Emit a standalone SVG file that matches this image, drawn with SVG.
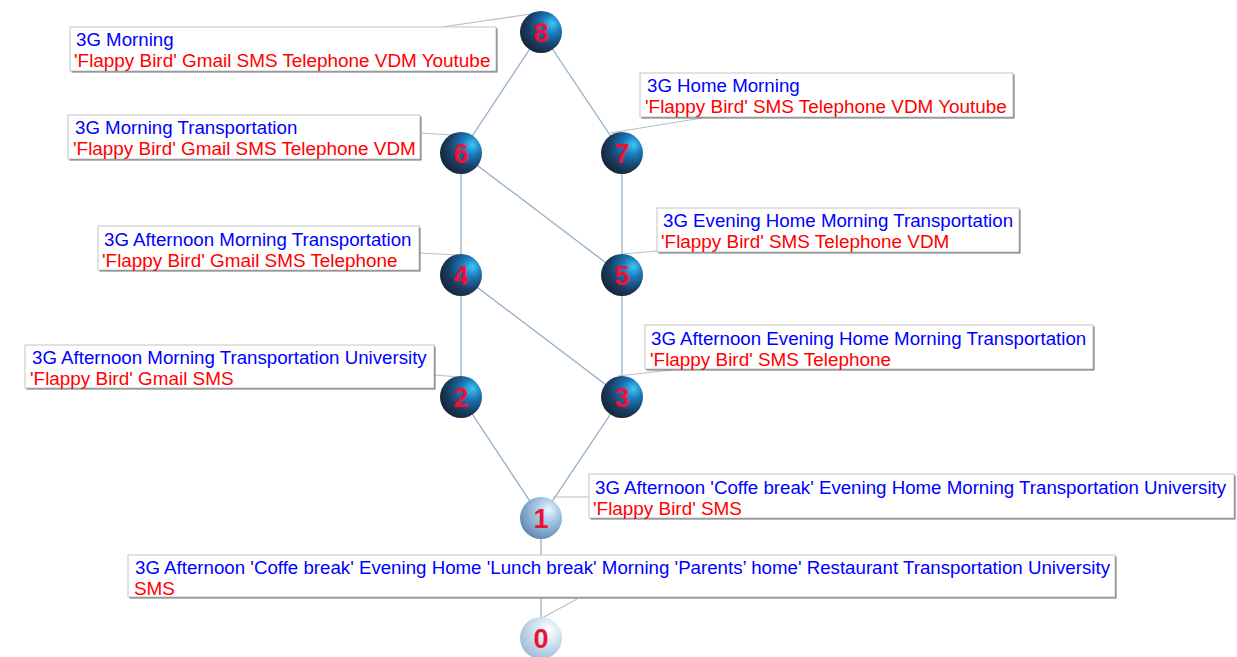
<svg xmlns="http://www.w3.org/2000/svg" width="1237" height="657" viewBox="0 0 1237 657">
<style>
.edge{stroke:#8ea9c6;stroke-width:1.2;fill:none}
.lead{stroke:#b9bec4;stroke-width:1.2;fill:none}
.box{fill:#fff;stroke:#c4c4c4;stroke-width:1}
.shd{fill:#6e6e6e}
.t1{font-family:"Liberation Sans",Arial,sans-serif;font-size:18.7px;fill:#0000ff}
.t2{font-family:"Liberation Sans",Arial,sans-serif;font-size:18.9px;fill:#ff0000}
.num{font-family:"Liberation Sans",Arial,sans-serif;font-size:27px;font-weight:bold;fill:#ee1133;text-anchor:middle}
.dark{fill:url(#gDark)}
</style>
<defs>
<radialGradient id="gDark" cx="0.68" cy="0.35" r="0.8" fx="0.78" fy="0.3">
<stop offset="0" stop-color="#3cc8f4"/>
<stop offset="0.3" stop-color="#1a78b8"/>
<stop offset="0.65" stop-color="#1a3c62"/>
<stop offset="1" stop-color="#161e2a"/>
</radialGradient>
<radialGradient id="gMid" cx="0.62" cy="0.35" r="0.8" fx="0.68" fy="0.3">
<stop offset="0" stop-color="#eef6ff"/>
<stop offset="0.35" stop-color="#a8c8e6"/>
<stop offset="0.75" stop-color="#7298c0"/>
<stop offset="1" stop-color="#4e6f92"/>
</radialGradient>
<radialGradient id="gLight" cx="0.62" cy="0.35" r="0.8" fx="0.68" fy="0.3">
<stop offset="0" stop-color="#ffffff"/>
<stop offset="0.4" stop-color="#d2e4f2"/>
<stop offset="0.8" stop-color="#a6c2da"/>
<stop offset="1" stop-color="#8aa8c2"/>
</radialGradient>
</defs>
<rect width="1237" height="657" fill="#ffffff"/>
<g id="connectors">
<line class="edge" x1="541" y1="32" x2="461" y2="153"/>
<line class="edge" x1="541" y1="32" x2="622" y2="153"/>
<line class="edge" x1="461" y1="153" x2="461" y2="275"/>
<line class="edge" x1="461" y1="153" x2="622" y2="275"/>
<line class="edge" x1="622" y1="153" x2="622" y2="275"/>
<line class="edge" x1="461" y1="275" x2="461" y2="397"/>
<line class="edge" x1="461" y1="275" x2="622" y2="397"/>
<line class="edge" x1="622" y1="275" x2="622" y2="397"/>
<line class="edge" x1="461" y1="397" x2="541" y2="518"/>
<line class="edge" x1="622" y1="397" x2="541" y2="518"/>
<line class="edge" x1="541" y1="518" x2="541" y2="637"/>
<line class="lead" x1="442" y1="27" x2="538" y2="13"/>
<line class="lead" x1="420" y1="133" x2="453" y2="135"/>
<line class="lead" x1="702" y1="118" x2="610" y2="133"/>
<line class="lead" x1="657" y1="251" x2="623" y2="254"/>
<line class="lead" x1="419" y1="253" x2="458" y2="255"/>
<line class="lead" x1="434" y1="375" x2="460" y2="377"/>
<line class="lead" x1="680" y1="369" x2="618" y2="376"/>
<line class="lead" x1="589" y1="497" x2="553" y2="497"/>
<line class="lead" x1="577" y1="599" x2="542" y2="618"/>
</g>
<g id="label8">
<rect class="shd" x="71.5" y="28.5" width="426" height="44"/>
<rect class="box" x="70" y="27" width="426" height="44"/>
<text class="t1" x="76" y="46">3G Morning</text>
<text class="t2" x="74" y="67">'Flappy Bird' Gmail SMS Telephone VDM Youtube</text>
</g>
<g id="label6">
<rect class="shd" x="69.5" y="116.5" width="352" height="44"/>
<rect class="box" x="68" y="115" width="352" height="44"/>
<text class="t1" x="75" y="134">3G Morning Transportation</text>
<text class="t2" x="73" y="155">'Flappy Bird' Gmail SMS Telephone VDM</text>
</g>
<g id="label7">
<rect class="shd" x="641.5" y="74.5" width="373" height="44"/>
<rect class="box" x="640" y="73" width="373" height="44"/>
<text class="t1" x="647" y="92">3G Home Morning</text>
<text class="t2" x="645" y="113">'Flappy Bird' SMS Telephone VDM Youtube</text>
</g>
<g id="label5">
<rect class="shd" x="658.5" y="209.5" width="362" height="44"/>
<rect class="box" x="657" y="208" width="362" height="44"/>
<text class="t1" x="663" y="227">3G Evening Home Morning Transportation</text>
<text class="t2" x="661" y="248">'Flappy Bird' SMS Telephone VDM</text>
</g>
<g id="label4">
<rect class="shd" x="99.5" y="227.5" width="321" height="44"/>
<rect class="box" x="98" y="226" width="321" height="44"/>
<text class="t1" x="104" y="246">3G Afternoon Morning Transportation</text>
<text class="t2" x="102" y="267">'Flappy Bird' Gmail SMS Telephone</text>
</g>
<g id="label2">
<rect class="shd" x="26.5" y="346.5" width="409" height="43"/>
<rect class="box" x="25" y="345" width="409" height="43"/>
<text class="t1" x="32" y="364">3G Afternoon Morning Transportation University</text>
<text class="t2" x="30" y="385">'Flappy Bird' Gmail SMS</text>
</g>
<g id="label3">
<rect class="shd" x="646.5" y="326.5" width="448" height="44"/>
<rect class="box" x="645" y="325" width="448" height="44"/>
<text class="t1" x="651" y="345">3G Afternoon Evening Home Morning Transportation</text>
<text class="t2" x="650" y="366">'Flappy Bird' SMS Telephone</text>
</g>
<g id="label1">
<rect class="shd" x="590.5" y="475.5" width="645" height="44"/>
<rect class="box" x="589" y="474" width="645" height="44"/>
<text class="t1" x="595" y="494">3G Afternoon 'Coffe break' Evening Home Morning Transportation University</text>
<text class="t2" x="593" y="515">'Flappy Bird' SMS</text>
</g>
<g id="label0">
<rect class="shd" x="129.5" y="556.5" width="987" height="42"/>
<rect class="box" x="128" y="555" width="987" height="42"/>
<text class="t1" x="135" y="574">3G Afternoon 'Coffe break' Evening Home 'Lunch break' Morning 'Parents’ home' Restaurant Transportation University</text>
<text class="t2" x="134" y="595">SMS</text>
</g>
<g id="node8"><circle class="dark" cx="541" cy="32" r="21"/><text class="num" x="541" y="42">8</text></g>
<g id="node6"><circle class="dark" cx="461" cy="153" r="21"/><text class="num" x="461" y="163">6</text></g>
<g id="node7"><circle class="dark" cx="622" cy="153" r="21"/><text class="num" x="622" y="163">7</text></g>
<g id="node4"><circle class="dark" cx="461" cy="275" r="21"/><text class="num" x="461" y="285">4</text></g>
<g id="node5"><circle class="dark" cx="622" cy="275" r="21"/><text class="num" x="622" y="285">5</text></g>
<g id="node2"><circle class="dark" cx="461" cy="397" r="21"/><text class="num" x="461" y="407">2</text></g>
<g id="node3"><circle class="dark" cx="622" cy="397" r="21"/><text class="num" x="622" y="407">3</text></g>
<g id="node1"><circle fill="url(#gMid)" cx="541" cy="518" r="21"/><text class="num" x="541" y="528">1</text></g>
<g id="node0"><circle fill="url(#gLight)" cx="541" cy="638" r="21"/><text class="num" x="541" y="648">0</text></g>
</svg>
